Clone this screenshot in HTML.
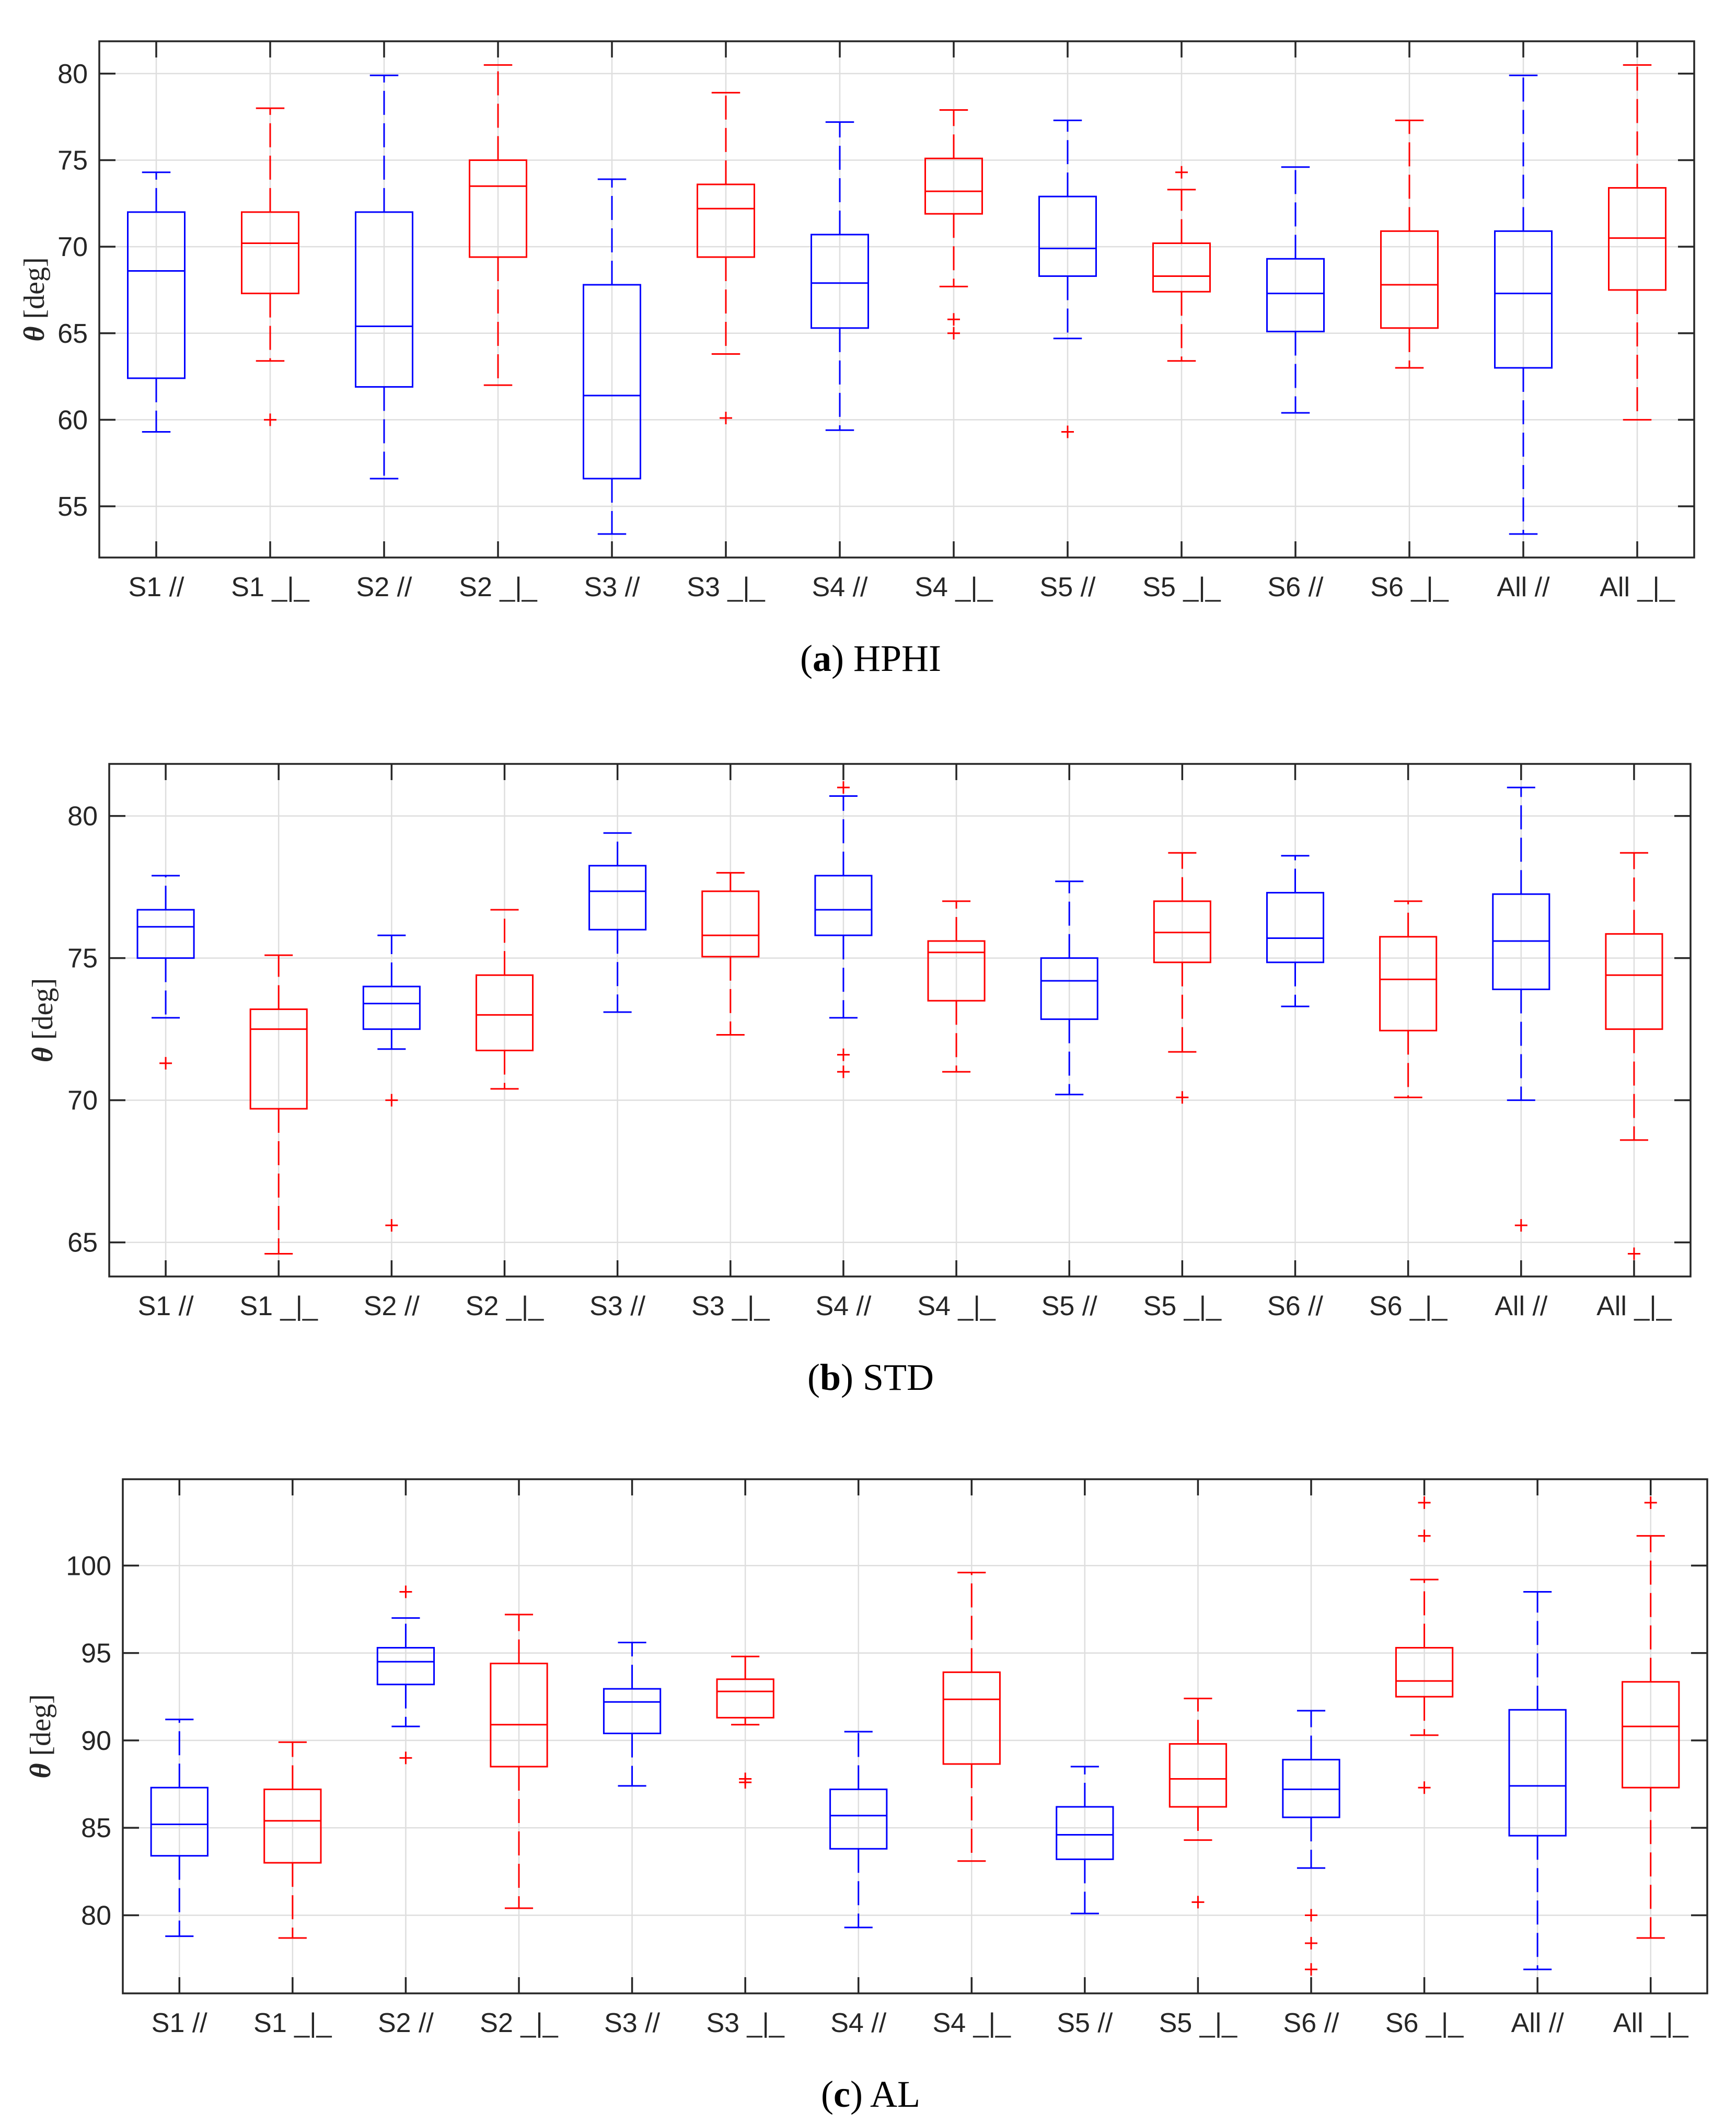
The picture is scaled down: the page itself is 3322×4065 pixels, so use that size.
<!DOCTYPE html>
<html>
<head>
<meta charset="utf-8">
<style>
  html, body { margin: 0; padding: 0; background: #ffffff; }
  svg { display: block; }
  .tick { font-family: "Liberation Sans", sans-serif; font-size: 52px; fill: #262626; }
  .ylab { font-family: "Liberation Serif", serif; font-size: 56px; fill: #262626; }
  .cap { font-family: "Liberation Serif", serif; font-size: 72px; fill: #000; }
</style>
</head>
<body>
<svg id="fig" width="3322" height="4065" viewBox="0 0 3322 4065" xmlns="http://www.w3.org/2000/svg">
  <rect x="0" y="0" width="3322" height="4065" fill="#ffffff"/>
</svg>
<script>
const categories = ["S1 //","S1 _|_","S2 //","S2 _|_","S3 //","S3 _|_","S4 //","S4 _|_","S5 //","S5 _|_","S6 //","S6 _|_","All //","All _|_"];
const colors = ["blue","red","blue","red","blue","red","blue","red","blue","red","blue","red","blue","red"];

// Panel (a) HPHI
const aLow = [59.3,63.4,56.6,62.0,53.4,63.8,59.4,67.7,64.7,63.4,60.4,63.0,53.4,60.0];
const aQ1  = [62.4,67.3,61.9,69.4,56.6,69.4,65.3,71.9,68.3,67.4,65.1,65.3,63.0,67.5];
const aMed = [68.6,70.2,65.4,73.5,61.4,72.2,67.9,73.2,69.9,68.3,67.3,67.8,67.3,70.5];
const aQ3  = [72.0,72.0,72.0,75.0,67.8,73.6,70.7,75.1,72.9,70.2,69.3,70.9,70.9,73.4];
const aHigh= [74.3,78.0,79.9,80.5,73.9,78.9,77.2,77.9,77.3,73.3,74.6,77.3,79.9,80.5];
const aOut = [[],[60.0],[],[],[],[60.1],[],[65.8,65.0],[59.3],[74.3],[],[],[],[]];
const aTicks = [55,60,65,70,75,80];

// Panel (b) STD
const bLow = [72.9,64.6,71.8,70.4,73.1,72.3,72.9,71.0,70.2,71.7,73.3,70.1,70.0,68.6];
const bQ1  = [75.0,69.7,72.5,71.75,76.0,75.05,75.8,73.5,72.85,74.85,74.85,72.45,73.9,72.5];
const bMed = [76.1,72.5,73.4,73.0,77.35,75.8,76.7,75.2,74.2,75.9,75.7,74.25,75.6,74.4];
const bQ3  = [76.7,73.2,74.0,74.4,78.25,77.35,77.9,75.6,75.0,77.0,77.3,75.75,77.25,75.85];
const bHigh= [77.9,75.1,75.8,76.7,79.4,78.0,80.7,77.0,77.7,78.7,78.6,77.0,81.0,78.7];
const bOut = [[71.3],[],[70.0,65.6],[],[],[],[81.0,71.6,71.0],[],[],[70.1],[],[],[65.6],[64.6]];
const bTicks = [65,70,75,80];

// Panel (c) AL
const cLow = [78.8,78.7,90.8,80.4,87.4,90.9,79.3,83.1,80.1,84.3,82.7,90.3,76.9,78.7];
const cQ1  = [83.4,83.0,93.2,88.5,90.4,91.3,83.8,88.65,83.2,86.2,85.6,92.5,84.55,87.3];
const cMed = [85.2,85.4,94.5,90.9,92.2,92.8,85.7,92.35,84.6,87.8,87.2,93.4,87.4,90.8];
const cQ3  = [87.3,87.2,95.3,94.4,92.95,93.5,87.2,93.9,86.2,89.8,88.9,95.3,91.75,93.35];
const cHigh= [91.2,89.9,97.0,97.2,95.6,94.8,90.5,99.6,88.5,92.4,91.7,99.2,98.5,101.7];
const cOut = [[],[],[98.5,89.0],[],[],[87.8,87.6],[],[],[],[80.75],[80.0,78.4,76.9],[103.6,101.7,87.3],[],[103.6]];
const cTicks = [80,85,90,95,100];

const NS = "http://www.w3.org/2000/svg";
const svg = document.getElementById("fig");
function mk(tag, attrs, parent) {
  const e = document.createElementNS(NS, tag);
  for (const k in attrs) e.setAttribute(k, attrs[k]);
  (parent || svg).appendChild(e);
  return e;
}
const COL = {blue: "#0000ff", red: "#ff0000"};

function panel(id, geom, ymin, ymax, low, q1, med, q3, high, outs, ticks, capLetter, capText, ylabX) {
  const g = mk("g", {});
  
  
  const L = geom.l, R = geom.r, T = geom.t, B = geom.b;
  const n = categories.length;
  const step = (R - L) / n;
  const xs = i => L + (i + 0.5) * step;
  const ys = v => B - (v - ymin) / (ymax - ymin) * (B - T);

  // grid
  const grid = mk("g", {stroke: "#dedede", "stroke-width": 2.5}, g);
  
  
  ticks.forEach(t => { mk("line", {x1: L, x2: R, y1: ys(t), y2: ys(t)}, grid); });
  categories.forEach((c, i) => { mk("line", {x1: xs(i), x2: xs(i), y1: T, y2: B}, grid); });

  // boxes
  categories.forEach((c, i) => {
    const bg = mk("g", {stroke: COL[colors[i]], fill: "none"}, g);
    
    
    const x = xs(i), hw = step * 0.25, cw = step * 0.125;
    mk("line", {x1: x, x2: x, y1: ys(q3[i]), y2: ys(high[i]), "stroke-width": 3, "stroke-dasharray": "46 16"}, bg);
    mk("line", {x1: x, x2: x, y1: ys(q1[i]), y2: ys(low[i]), "stroke-width": 3, "stroke-dasharray": "46 16"}, bg);
    mk("line", {x1: x - cw, x2: x + cw, y1: ys(high[i]), y2: ys(high[i]), "stroke-width": 3}, bg);
    mk("line", {x1: x - cw, x2: x + cw, y1: ys(low[i]), y2: ys(low[i]), "stroke-width": 3}, bg);
    mk("rect", {x: x - hw, y: ys(q3[i]), width: 2 * hw, height: ys(q1[i]) - ys(q3[i]), "stroke-width": 3}, bg);
    mk("line", {x1: x - hw, x2: x + hw, y1: ys(med[i]), y2: ys(med[i]), "stroke-width": 3}, bg);
    outs[i].forEach(v => {
      const o = mk("path", {d: `M${x-12},${ys(v)}H${x+12}M${x},${ys(v)-12}V${ys(v)+12}`, stroke: "#ff0000", "stroke-width": 3}, g);
      
      
    });
  });

  // axes frame + ticks
  const ax = mk("g", {stroke: "#262626", "stroke-width": 3.5, fill: "none"}, g);
  
  
  mk("rect", {x: L, y: T, width: R - L, height: B - T}, ax);
  ticks.forEach(t => {
    mk("line", {x1: L, x2: L + 31, y1: ys(t), y2: ys(t)}, ax);
    mk("line", {x1: R, x2: R - 31, y1: ys(t), y2: ys(t)}, ax);
    const tl = mk("text", {x: L - 22, y: ys(t) + 18, "text-anchor": "end", class: "tick"}, g);
    
    
    tl.textContent = t;
  });
  categories.forEach((c, i) => {
    mk("line", {x1: xs(i), x2: xs(i), y1: T, y2: T + 31}, ax);
    mk("line", {x1: xs(i), x2: xs(i), y1: B, y2: B - 31}, ax);
    const tl = mk("text", {x: xs(i), y: B + 74, "text-anchor": "middle", class: "tick"}, g);
    
    
    tl.textContent = c;
  });

  // y label
  const yl = mk("text", {x: 0, y: 0, "text-anchor": "middle", class: "ylab", transform: `translate(${ylabX},${(T + B) / 2}) rotate(-90)`}, g);
  
  
  const th = mk("tspan", {"font-style": "italic", "font-weight": "bold"}, yl);
  th.textContent = "θ";
  const rest = mk("tspan", {}, yl);
  rest.textContent = " [deg]";

  // caption
  const cp = mk("text", {x: 1666, y: B + 217, "text-anchor": "middle", class: "cap"}, g);
  
  
  const t1 = mk("tspan", {}, cp); t1.textContent = "(";
  const t2 = mk("tspan", {"font-weight": "bold"}, cp); t2.textContent = capLetter;
  const t3 = mk("tspan", {}, cp); t3.textContent = ") " + capText;
}

panel("a", {l: 190, r: 3242, t: 79, b: 1067}, 52.04, 81.87, aLow, aQ1, aMed, aQ3, aHigh, aOut, aTicks, "a", "HPHI", 84);
panel("b", {l: 209, r: 3235, t: 1462, b: 2443}, 63.8, 81.83, bLow, bQ1, bMed, bQ3, bHigh, bOut, bTicks, "b", "STD", 100);
panel("c", {l: 235, r: 3267, t: 2831, b: 3815}, 75.53, 104.94, cLow, cQ1, cMed, cQ3, cHigh, cOut, cTicks, "c", "AL", 96);
</script>
</body>
</html>
